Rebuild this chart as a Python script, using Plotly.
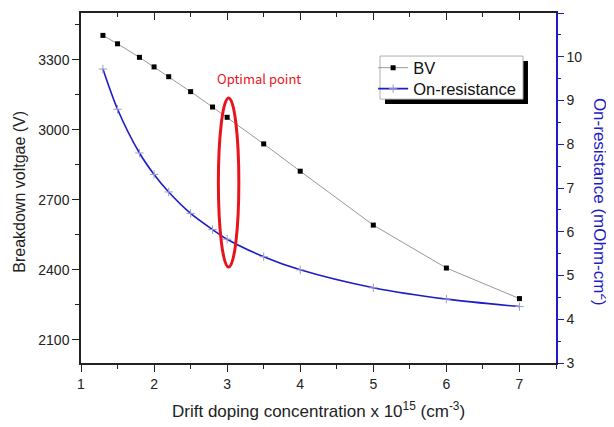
import plotly.graph_objects as go

doping = [1.3, 1.5, 1.8, 2.0, 2.2, 2.5, 2.8, 3.0, 3.5, 4.0, 5.0, 6.0, 7.0]
bv = [3404, 3368, 3310, 3269, 3227, 3163, 3097, 3053, 2939, 2822, 2591, 2407, 2276]
ron = [9.72, 8.80, 7.80, 7.31, 6.91, 6.42, 6.05, 5.83, 5.43, 5.13, 4.72, 4.46, 4.29]

x_ticks = [1, 2, 3, 4, 5, 6, 7]
left_ticks = [2100, 2400, 2700, 3000, 3300]
right_ticks = [3, 4, 5, 6, 7, 8, 9, 10, 11]

BLUE = "#1c1cc8"
FONT = "Liberation Sans, Arial, sans-serif"

fig = go.Figure()
fig.add_trace(go.Scatter(
    x=doping, y=bv, name="BV", mode="lines+markers",
    line=dict(color="#8c8c8c", width=0.9),
    marker=dict(symbol="square", size=5, color="black"),
    xaxis="x", yaxis="y", legend="legend"))
fig.add_trace(go.Scatter(
    x=doping, y=ron, name="On-resistance", mode="lines+markers",
    line=dict(color=BLUE, width=1.6, shape="spline", smoothing=0.8),
    marker=dict(symbol="cross-thin", size=6, color="#9a9ac8",
                line=dict(color="#9a9ac8", width=1)),
    xaxis="x", yaxis="y2", legend="legend2"))
# invisible trace for the top (mirror) axis
fig.add_trace(go.Scatter(x=[doping[0]], y=[bv[0]], mode="markers",
                         marker=dict(opacity=0), showlegend=False,
                         hoverinfo="skip", xaxis="x2", yaxis="y"))

axis_common = dict(showgrid=False, zeroline=False, linewidth=1.5,
                   tickfont=dict(family=FONT, size=14, color="#222"))

legend_common = dict(x=0.615, xanchor="left", yanchor="middle",
                     bgcolor="rgba(0,0,0,0)", borderwidth=0,
                     font=dict(family=FONT, size=16.5, color="#111"),
                     itemwidth=30)

fig.update_layout(
    width=606, height=419,
    margin=dict(l=73, r=58, t=5, b=64, autoexpand=False),
    paper_bgcolor="white", plot_bgcolor="white",
    font=dict(family=FONT, color="#222"),
    showlegend=True,
    xaxis=dict(range=[1, 7.5], tickvals=x_ticks, ticks="outside", ticklen=7,
               tickwidth=1.3, tickcolor="#222", linecolor="#222",
               minor=dict(dtick=0.5, tick0=1, ticks="outside", ticklen=4,
                          tickwidth=1.3, tickcolor="#222"),
               **axis_common),
    xaxis2=dict(range=[1, 7.5], overlaying="x", side="top", anchor="y",
                tickvals=x_ticks, ticks="inside", ticklen=7, tickwidth=1.3,
                tickcolor="#222", linecolor="#222", showticklabels=False,
                minor=dict(dtick=0.5, tick0=1, ticks="inside", ticklen=4,
                           tickwidth=1.3, tickcolor="#222"),
                **axis_common),
    yaxis=dict(range=[2000, 3500], tickvals=left_ticks, ticks="outside",
               ticklen=7, tickwidth=1.3, tickcolor="#222", linecolor="#222",
               minor=dict(dtick=150, tick0=2100, ticks="outside", ticklen=4,
                          tickwidth=1.3, tickcolor="#222"),
               **axis_common),
    yaxis2=dict(range=[3, 11], tickvals=right_ticks, overlaying="y",
                side="right", anchor="x", ticks="outside", ticklen=6,
                tickwidth=1.3, tickcolor=BLUE, linecolor=BLUE,
                minor=dict(dtick=0.5, tick0=3, ticks="outside", ticklen=3,
                           tickwidth=1.3, tickcolor=BLUE),
                **axis_common),
    legend=dict(y=0.843, **legend_common),
    legend2=dict(y=0.783, **legend_common),
)

# legend shadow and box
fig.add_shape(type="rect", xref="paper", yref="paper",
              x0=0.640, x1=0.941, y0=0.740, y1=0.863,
              fillcolor="black", line=dict(width=0), layer="above")
fig.add_shape(type="rect", xref="paper", yref="paper",
              x0=0.6295, x1=0.9305, y0=0.754, y1=0.877,
              fillcolor="white", line=dict(color="#b0b0b0", width=1),
              layer="above")

# ellipse around optimal point
fig.add_shape(type="circle", xref="x", yref="y",
              x0=2.88, x1=3.16, y0=2411, y1=3136,
              line=dict(color="#e8141c", width=3))

fig.add_annotation(x=3.44, y=3221, xref="x", yref="y",
                   text="Optimal point", showarrow=False,
                   font=dict(family="Noto Sans CJK KR", size=13, color="#e8141c"))

# axis titles
fig.add_annotation(x=0.5, y=-0.135, xref="paper", yref="paper",
                   xanchor="center", yanchor="middle", showarrow=False,
                   text="Drift doping concentration x 10<sup>15</sup> (cm<sup>-3</sup>)",
                   font=dict(family=FONT, size=17, color="#222"))
fig.add_annotation(x=-0.13, y=0.49, xref="paper", yref="paper",
                   xanchor="center", yanchor="middle", showarrow=False,
                   textangle=-90, text="Breakdown voltgae (V)",
                   font=dict(family=FONT, size=16, color="#222"))
fig.add_annotation(x=1.095, y=0.46, xref="paper", yref="paper",
                   xanchor="center", yanchor="middle", showarrow=False,
                   textangle=90, text="On-resistance (mOhm-cm<sup>2</sup>)",
                   font=dict(family=FONT, size=17, color=BLUE))

fig.write_html("out.html")
